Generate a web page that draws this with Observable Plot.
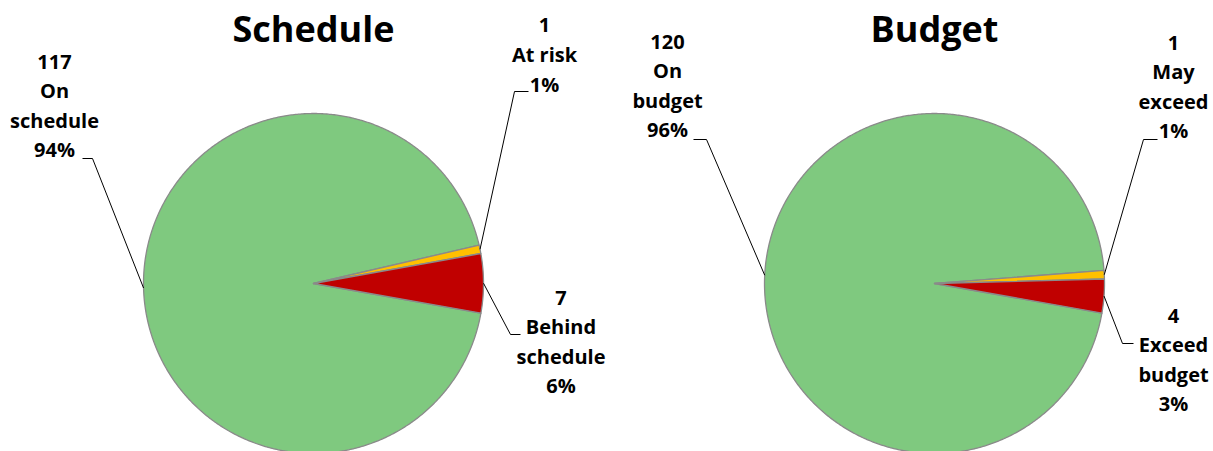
<!DOCTYPE html>
<html>
<head>
<meta charset="utf-8">
<script src="https://cdn.jsdelivr.net/npm/d3@7"></script>
<script src="https://cdn.jsdelivr.net/npm/@observablehq/plot@0.6"></script>
<style>
  html, body { margin: 0; padding: 0; background: #fff; }
  #chart svg { display: block; }
</style>
</head>
<body>
<div id="chart"></div>
<script>
// ---- data ----
const charts = ["Schedule", "Budget"];
const scheduleCategories = ["On schedule", "At risk", "Behind schedule"];
const scheduleValues = [117, 1, 7];
const scheduleLabelLines = ["On\nschedule", "At risk", "Behind\nschedule"];
const budgetCategories = ["On budget", "May exceed", "Exceed budget"];
const budgetValues = [120, 1, 4];
const budgetLabelLines = ["On\nbudget", "May\nexceed", "Exceed\nbudget"];
const statusColors = ["#7FC97F", "#FFC000", "#C00000"];

// ---- layout ----
const W = 1213, H = 451;
const R = 170, CY = 283;
const centersX = [313, 934];
const startDeg = 100;
// label block center (lx, ly), leader elbow (ex, ey), leader end x (hx), relative to pie center
const labelLayout = [
  [
    {lx: -259, ly: -180, ex: -221, ey: -125, hx: -231},
    {lx: 231, ly: -231, ex: 201, ey: -192, hx: 215},
    {lx: 247.5, ly: 56, ex: 197, ey: 51, hx: 207}
  ],
  [
    {lx: -267, ly: -200, ex: -228, ey: -144, hx: -241},
    {lx: 239, ly: -199, ex: 209, ey: -144, hx: 223},
    {lx: 239, ly: 74, ex: 188, ey: 60, hx: 199}
  ]
];

const seriesSets = [
  {name: charts[0], cats: scheduleCategories, vals: scheduleValues, lines: scheduleLabelLines},
  {name: charts[1], cats: budgetCategories, vals: budgetValues, lines: budgetLabelLines}
];

const slicePts = [], leaderPts = [], labels = [], titles = [];
seriesSets.forEach((s, ci) => {
  const cx = centersX[ci];
  const total = d3.sum(s.vals);
  const a0 = startDeg * Math.PI / 180;
  const arcs = d3.pie().sort(null).startAngle(a0).endAngle(a0 + 2 * Math.PI)(s.vals);
  titles.push({x: cx, y: 30, text: s.name});
  arcs.forEach((arc, i) => {
    const id = s.name + "-" + i;
    slicePts.push({id, x: cx, y: CY, c: statusColors[i]});
    const n = Math.max(2, Math.ceil((arc.endAngle - arc.startAngle) / (Math.PI / 360)));
    for (let k = 0; k <= n; k++) {
      const a = arc.startAngle + (arc.endAngle - arc.startAngle) * k / n;
      slicePts.push({id, x: cx + R * Math.sin(a), y: CY - R * Math.cos(a), c: statusColors[i]});
    }
    slicePts.push({id, x: cx, y: CY, c: statusColors[i]});
    const L = labelLayout[ci][i];
    const mid = (arc.startAngle + arc.endAngle) / 2;
    leaderPts.push({id, x: cx + R * Math.sin(mid), y: CY - R * Math.cos(mid)});
    leaderPts.push({id, x: cx + L.ex, y: CY + L.ey});
    leaderPts.push({id, x: cx + L.hx, y: CY + L.ey});
    const pct = Math.round(s.vals[i] / total * 100);
    labels.push({x: cx + L.lx, y: CY + L.ly, text: `${s.vals[i]}\n${s.lines[i]}\n${pct}%`});
  });
});

const plot = Plot.plot({
  width: W,
  height: H,
  margin: 0,
  x: {domain: [0, W], range: [0, W], axis: null},
  y: {domain: [0, H], range: [0, H], axis: null},
  style: {background: "#fff"},
  marks: [
    Plot.line(slicePts, {x: "x", y: "y", z: "id", fill: "c", stroke: "#8a8a8a", strokeWidth: 1.3, strokeLinejoin: "round", curve: "linear"}),
    Plot.line(leaderPts, {x: "x", y: "y", z: "id", stroke: "#000", strokeWidth: 1, strokeLinecap: "butt", curve: "linear"}),
    Plot.text(labels, {x: "x", y: "y", text: "text", fontFamily: "Open Sans", fontWeight: "bold", fontSize: 20, lineHeight: 1.48, fill: "#000", textAnchor: "middle"}),
    Plot.text(titles, {x: "x", y: "y", text: "text", fontFamily: "Open Sans", fontWeight: "bold", fontSize: 36, fill: "#000", textAnchor: "middle"})
  ]
});
document.getElementById("chart").appendChild(plot);
</script>
</body>
</html>
